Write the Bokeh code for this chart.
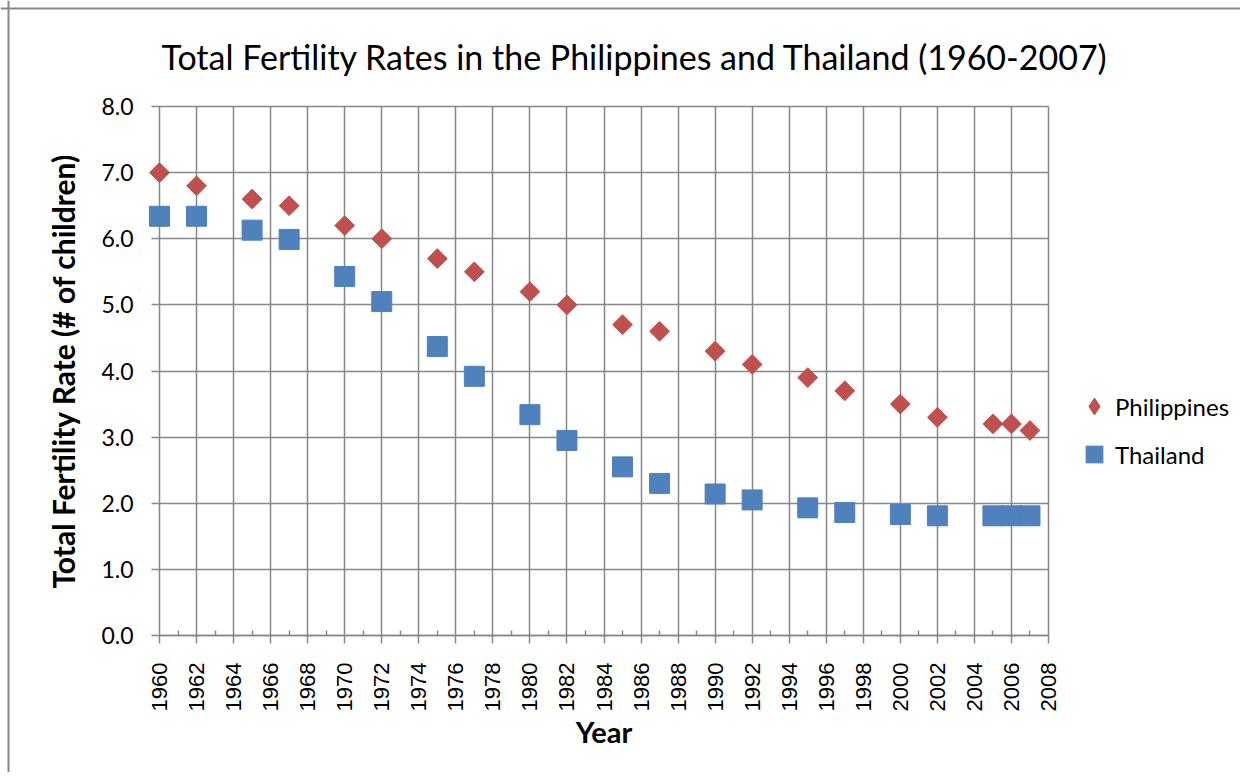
from math import pi
from bokeh.plotting import figure
from bokeh.models import Range1d, FixedTicker, NumeralTickFormatter, Label, Legend, LegendItem, Span
from bokeh.embed import file_html
from bokeh.resources import INLINE

# ---------------- data ----------------
title_text = "Total Fertility Rates in the Philippines and Thailand (1960-2007)"
x_label = "Year"
y_label = "Total Fertility Rate (# of children)"
series_names = ["Philippines", "Thailand"]
years = [1960, 1962, 1965, 1967, 1970, 1972, 1975, 1977, 1980, 1982, 1985,
         1987, 1990, 1992, 1995, 1997, 2000, 2002, 2005, 2006, 2007]
philippines = [7.0, 6.8, 6.6, 6.5, 6.2, 6.0, 5.7, 5.5, 5.2, 5.0, 4.7,
               4.6, 4.3, 4.1, 3.9, 3.7, 3.5, 3.3, 3.2, 3.2, 3.1]
thailand = [6.34, 6.34, 6.13, 5.99, 5.43, 5.05, 4.37, 3.92, 3.34, 2.95, 2.55,
            2.30, 2.14, 2.05, 1.93, 1.86, 1.83, 1.81, 1.81, 1.81, 1.81]
x_ticks = list(range(1960, 2010, 2))
x_minor_ticks = list(range(1961, 2008, 2))
y_ticks = [0, 1, 2, 3, 4, 5, 6, 7, 8]

# ---------------- layout (page px; the plot frame fills the canvas) ----------------
W, H = 1240, 772
X0PX, X1PX = 159, 1048      # x axis from first to last tick
Y0PX, Y1PX = 635, 106       # y axis from first to last tick
XMIN, XMAX = x_ticks[0], x_ticks[-1]
YMIN, YMAX = y_ticks[0], y_ticks[-1]
ppx = (X1PX - X0PX) / (XMAX - XMIN)
ppy = (Y0PX - Y1PX) / (YMAX - YMIN)
x_start = XMIN - X0PX / ppx
x_end = XMIN + (W - X0PX) / ppx
y_start = YMIN - (H - Y0PX) / ppy
y_end = YMIN + Y0PX / ppy


def dx(px):
    return XMIN + (px - X0PX) / ppx


def dy(py):
    return YMIN + (Y0PX - py) / ppy


GRID = "#878787"
RED = "#C0504D"
BLUE = "#4F81BD"
FONT = "Lato"

p = figure(width=W, height=H, x_range=Range1d(x_start, x_end), y_range=Range1d(y_start, y_end),
           output_backend="svg", toolbar_location=None, title_location=None, min_border=0)
p.outline_line_color = None
p.background_fill_color = "white"
p.border_fill_color = "white"

# chart border (top and left edges)
p.add_layout(Span(location=dx(8), dimension="height", line_color=GRID, line_width=2))
p.add_layout(Span(location=dy(8), dimension="width", line_color=GRID, line_width=2))

# x axis
xa = p.xaxis[0]
xa.fixed_location = YMIN
xa.ticker = FixedTicker(ticks=x_ticks, minor_ticks=x_minor_ticks)
xa.bounds = (XMIN, XMAX)
xa.axis_line_color = GRID
xa.axis_line_width = 1.5
xa.major_tick_line_color = GRID
xa.major_tick_line_width = 1.5
xa.major_tick_out = 8
xa.major_tick_in = 0
xa.minor_tick_line_color = GRID
xa.minor_tick_line_width = 1.5
xa.minor_tick_in = 5
xa.minor_tick_out = 0
xa.major_label_orientation = pi / 2
xa.major_label_text_font = "Liberation Sans"
xa.major_label_text_font_size = "22px"
xa.major_label_text_color = "black"
xa.major_label_standoff = 19
xa.axis_label = x_label
xa.axis_label_text_font = FONT
xa.axis_label_text_font_style = "bold"
xa.axis_label_text_font_size = "29px"
xa.axis_label_text_color = "black"
xa.axis_label_standoff = 0

# y axis
ya = p.yaxis[0]
ya.fixed_location = XMIN
ya.bounds = (YMIN, YMAX)
ya.ticker = FixedTicker(ticks=y_ticks, minor_ticks=[])
ya.formatter = NumeralTickFormatter(format="0.0")
ya.axis_line_color = None
ya.major_tick_line_color = None
ya.minor_tick_line_color = None
ya.major_tick_in = 0
ya.major_tick_out = 0
ya.major_label_text_font = FONT
ya.major_label_text_font_size = "23px"
ya.major_label_text_color = "black"
ya.major_label_standoff = 26
ya.axis_label = y_label
ya.axis_label_text_font = FONT
ya.axis_label_text_font_style = "bold"
ya.axis_label_text_font_size = "30px"
ya.axis_label_text_color = "black"
ya.axis_label_standoff = 17

# grids
p.xgrid.grid_line_color = GRID
p.xgrid.grid_line_width = 1.5
p.xgrid.bounds = (XMIN, XMAX)
p.xgrid.cross_bounds = (YMIN, YMAX)
p.ygrid.grid_line_color = GRID
p.ygrid.grid_line_width = 1.5
p.ygrid.bounds = (YMIN, YMAX)
p.ygrid.cross_bounds = (XMIN - 8 / ppx, XMAX)

# series
r_ph = p.scatter(years, philippines, marker="square", angle=pi / 4, size=14,
                 fill_color=RED, line_color=RED)
r_th = p.scatter(years, thailand, marker="square", size=20,
                 fill_color=BLUE, line_color=BLUE)

# legend key for the Philippines (legend keys are drawn without rotation,
# so the key uses the diamond marker of a renderer with no visible point)
nan = float("nan")
r_ph_key = p.scatter([nan], [nan], marker="diamond", fill_color=RED, line_color=RED)

# legend (location = bottom-left of the legend box, from the frame's bottom-left)
legend = Legend(items=[LegendItem(label=series_names[0], renderers=[r_ph_key]),
                       LegendItem(label=series_names[1], renderers=[r_th])],
                location=(1073, H - 475), glyph_width=42, glyph_height=42,
                padding=0, margin=0, border_line_color=None, background_fill_alpha=0,
                label_standoff=0, label_text_font=FONT, label_text_font_size="24px",
                label_text_color="black", spacing=6)
p.add_layout(legend)

# title
title = Label(x=dx(634.5), y=dy(56), text=title_text,
              text_align="center", text_baseline="middle", text_font=FONT,
              text_font_size="34px", text_color="black")
p.add_layout(title)

open("out.html", "w").write(file_html(p, INLINE))
